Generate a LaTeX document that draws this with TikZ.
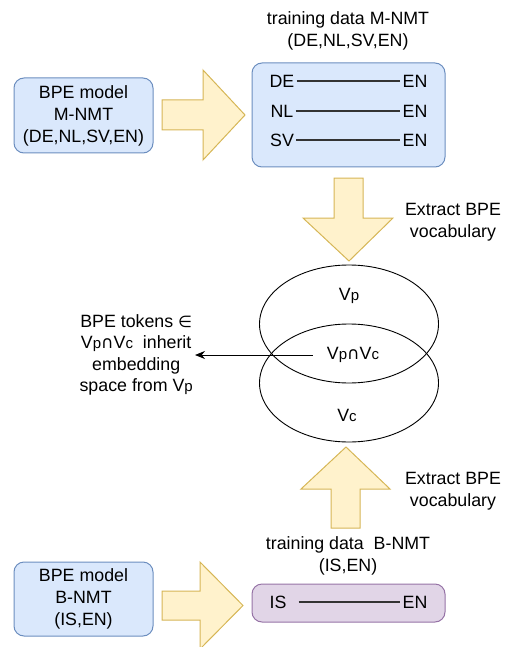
\documentclass[tikz,border=0pt]{standalone}
\usepackage{fontspec}
\setmainfont{Liberation Sans}
\newfontfamily\symfont{DejaVu Sans}
\usetikzlibrary{positioning,shapes.geometric,arrows.meta}

\definecolor{boxblue}{HTML}{DAE8FC}
\definecolor{lineblue}{HTML}{6C8EBF}
\definecolor{boxpurple}{HTML}{E1D5E7}
\definecolor{linepurple}{HTML}{9673A6}
\definecolor{arrowfill}{HTML}{FFF2CC}
\definecolor{arrowline}{HTML}{D6B656}

\newcommand{\vsub}[1]{V{\fontsize{15}{15}\selectfont #1}}
\newcommand{\capsym}{{\symfont\fontsize{17}{17}\selectfont ∩}}

\tikzset{
    txt/.style={font=\fontsize{17.8}{22}\selectfont, align=center, inner sep=2pt},
    modelbox/.style={txt, draw=lineblue, fill=boxblue, rounded corners=10pt, line width=1pt,
        minimum width=139pt, minimum height=75pt},
    databox/.style={draw=#1, rounded corners=10pt, line width=1pt, minimum width=193pt},
    blockarrow/.style={draw=arrowline, fill=arrowfill, line width=1pt, line join=miter},
    vocab/.style={draw, ellipse, line width=0.9pt, minimum width=179pt, minimum height=118pt, inner sep=0pt},
    pairline/.style={line width=1.3pt, draw=black!80}
}

\begin{document}
\begin{tikzpicture}[x=1pt, y=-1pt]
    \useasboundingbox (0,0) rectangle (504,647);
    \clip (0,0) rectangle (504,647);

    % Multilingual part (top)
    \node[modelbox] (bpem) at (83.5,115.5) {BPE model\\M-NMT\\(DE,NL,SV,EN)};
    \draw[blockarrow] (162,100) -- (203,100) -- (203,70) -- (245,115) -- (203,160) -- (203,130) -- (162,130) -- cycle;
    \node[databox=lineblue, fill=boxblue, minimum height=104pt] (datam) at (348.5,115) {};
    \node[txt] (datamlabel) at (348,31) {training data M-NMT\\(DE,NL,SV,EN)};
    \node[txt] (de) at (282,81) {DE};
    \node[txt] (en1) at (415,81) {EN};
    \node[txt] (nl) at (282,111) {NL};
    \node[txt] (en2) at (415,111) {EN};
    \node[txt] (sv) at (282,140) {SV};
    \node[txt] (en3) at (415,140) {EN};
    \draw[pairline] (de.east) -- (en1.west);
    \draw[pairline] (nl.east) -- (en2.west);
    \draw[pairline] (sv.east) -- (en3.west);

    % Extract vocabulary (down)
    \draw[blockarrow] (334,178) -- (363,178) -- (363,218) -- (393,218) -- (349,261) -- (303,218) -- (334,218) -- cycle;
    \node[txt] (extm) at (453,222) {Extract BPE\\vocabulary};

    % Vocabularies
    \node[vocab] (vp) at (349,324) {};
    \node[vocab] (vc) at (349,383) {};
    \node[txt] (vplabel) at (349,296) {\vsub{p}};
    \node[txt] (vpvc) at (353,355) {\vsub{p}\capsym\vsub{c}};
    \node[txt] (vclabel) at (347,415) {\vsub{c}};
    \node[txt, anchor=east, inner sep=0pt, font=\fontsize{17.8}{21.3}\selectfont] (tokens) at (193,355)
        {BPE tokens {\symfont\fontsize{16}{16}\selectfont ∈}\\\vsub{p}\capsym\vsub{c}\ \ inherit\\embedding\\space from \vsub{p}};
    \draw[-{Stealth[length=10pt,width=8pt]}, line width=1pt] ([xshift=-12pt]vpvc.west) -- ([xshift=2pt]tokens.east);

    % Extract vocabulary (up)
    \draw[blockarrow] (331,528) -- (360,528) -- (360,489) -- (390,489) -- (346,447) -- (301,489) -- (331,489) -- cycle;
    \node[txt] (extb) at (453,491) {Extract BPE\\vocabulary};

    % Bilingual part (bottom)
    \node[modelbox, minimum height=74pt] (bpeb) at (83.5,599) {BPE model\\B-NMT\\(IS,EN)};
    \draw[blockarrow] (162,591) -- (200,591) -- (200,562) -- (243,605.5) -- (200,649) -- (200,620) -- (162,620) -- cycle;
    \node[databox=linepurple, fill=boxpurple, minimum height=38pt] (datab) at (348.5,603) {};
    \node[txt] (datablabel) at (348,556) {training data\ \ B-NMT\\(IS,EN)};
    \node[txt] (is) at (278,602) {IS};
    \node[txt] (en4) at (415,602) {EN};
    \draw[pairline] ([xshift=10pt]is.east) -- (en4.west);
\end{tikzpicture}
\end{document}
